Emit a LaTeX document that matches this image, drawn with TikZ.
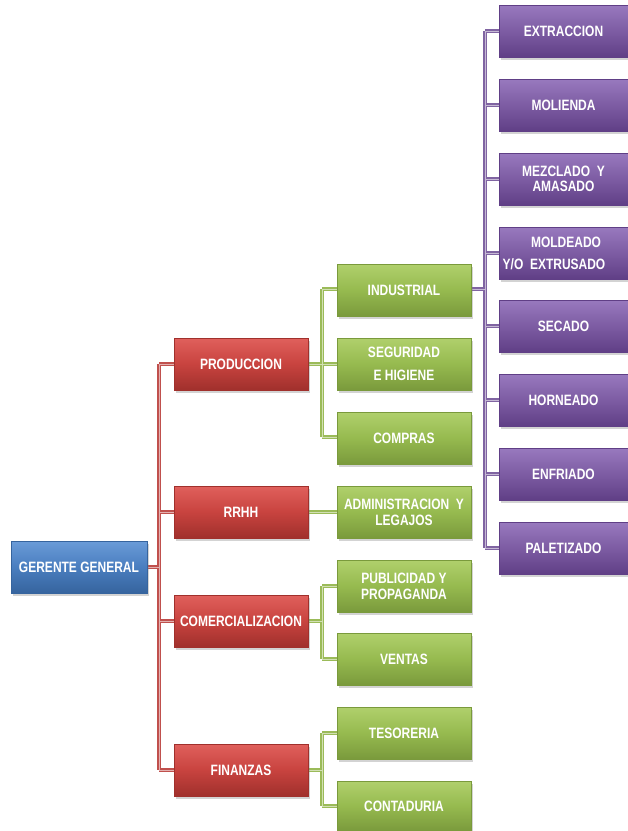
\documentclass[tikz,border=0pt]{standalone}
\usepackage{fontspec}
\setmainfont{Liberation Sans}[FakeStretch=0.8]
\usetikzlibrary{shadows}
\definecolor{cblue}{HTML}{4A7EBF}
\definecolor{cbluelt}{HTML}{6A9BD8}
\definecolor{cbluedk}{HTML}{36649E}
\definecolor{cred}{HTML}{C8433F}
\definecolor{credlt}{HTML}{E0605C}
\definecolor{creddk}{HTML}{A0302C}
\definecolor{cgreen}{HTML}{96BA4F}
\definecolor{cgreenlt}{HTML}{B0D06C}
\definecolor{cgreendk}{HTML}{7A9A3C}
\definecolor{cpurple}{HTML}{7D5CA3}
\definecolor{cpurplelt}{HTML}{9879BE}
\definecolor{cpurpledk}{HTML}{603F86}
\definecolor{lnred}{HTML}{C0504D}
\definecolor{lngreen}{HTML}{9BBB59}
\definecolor{lnpurple}{HTML}{8064A2}
\tikzset{
  box/.style={minimum height=52pt, inner sep=2pt, align=center,
    text=white, font=\bfseries\fontsize{15}{17}\selectfont,
    drop shadow={shadow xshift=2pt, shadow yshift=-2.5pt, opacity=0.35}},
  bluebox/.style={box, minimum width=136pt, top color=cbluelt, bottom color=cbluedk, middle color=cblue, draw=cbluedk, line width=0.4pt},
  redbox/.style={box, minimum width=134pt, top color=credlt, bottom color=creddk, middle color=cred, draw=creddk, line width=0.4pt},
  greenbox/.style={box, minimum width=134pt, top color=cgreenlt, bottom color=cgreendk, middle color=cgreen, draw=cgreendk, line width=0.4pt},
  purplebox/.style={box, minimum width=129pt, top color=cpurplelt, bottom color=cpurpledk, middle color=cpurple, draw=cpurpledk, line width=0.4pt},
  outer/.style={line width=3.2pt},
  inner/.style={line width=1pt},
}
\newcommand{\redtree}[1]{%
  \draw[#1] (147,567) -- (159,567);
  \draw[#1] (159,364) -- (159,770);
  \draw[#1] (159,364) -- (174,364);
  \draw[#1] (159,512) -- (174,512);
  \draw[#1] (159,621) -- (174,621);
  \draw[#1] (159,770) -- (174,770);}
\newcommand{\greentree}[1]{%
  \draw[#1] (308,364) -- (322,364);
  \draw[#1] (322,289) -- (322,437);
  \draw[#1] (322,289) -- (337,289);
  \draw[#1] (322,437) -- (337,437);
  \draw[#1] (322,364) -- (337,364);
  \draw[#1] (308,512) -- (337,512);
  \draw[#1] (308,621) -- (322,621);
  \draw[#1] (322,586) -- (322,659);
  \draw[#1] (322,586) -- (337,586);
  \draw[#1] (322,659) -- (337,659);
  \draw[#1] (308,770) -- (322,770);
  \draw[#1] (322,733) -- (322,806);
  \draw[#1] (322,733) -- (337,733);
  \draw[#1] (322,806) -- (337,806);}
\newcommand{\purpletree}[1]{%
  \draw[#1] (471,289) -- (485,289);
  \draw[#1] (485,31) -- (485,548);
  \foreach \yy in {31,105,179,253,326,400,474,548} {\draw[#1] (485,\yy) -- (499,\yy);}}
\begin{document}
\begin{tikzpicture}[x=1pt,y=-1pt]
\useasboundingbox (0,0) rectangle (628,831);
% connectors (drawn first)
\redtree{outer,lnred}
\redtree{inner,lnred!45!white}
\greentree{outer,lngreen}
\greentree{inner,lngreen!45!white}
\purpletree{outer,lnpurple}
\purpletree{inner,lnpurple!45!white}
% nodes
\node[bluebox] (gg) at (79,567) {GERENTE GENERAL};
\node[redbox] (prod) at (241,364) {PRODUCCION};
\node[redbox] (rrhh) at (241,512) {RRHH};
\node[redbox] (com) at (241,621) {COMERCIALIZACION};
\node[redbox] (fin) at (241,770) {FINANZAS};
\node[greenbox] (ind) at (404,290) {INDUSTRIAL};
\node[greenbox, font=\bfseries\fontsize{15}{23}\selectfont] (seg) at (404,364) {SEGURIDAD\\E HIGIENE};
\node[greenbox] (comp) at (404,438) {COMPRAS};
\node[greenbox, font=\bfseries\fontsize{15}{16}\selectfont] (adm) at (404,512) {ADMINISTRACION\ \ Y\\LEGAJOS};
\node[greenbox, font=\bfseries\fontsize{15}{16}\selectfont] (pub) at (404,586) {PUBLICIDAD Y\\PROPAGANDA};
\node[greenbox] (ven) at (404,659) {VENTAS};
\node[greenbox] (tes) at (404,733) {TESORERIA};
\node[greenbox, minimum height=50pt] (cont) at (404,806) {CONTADURIA};
\node[purplebox] (ext) at (563.5,31) {EXTRACCION};
\node[purplebox] (mol) at (563.5,105) {MOLIENDA};
\node[purplebox, font=\bfseries\fontsize{15}{15}\selectfont] (mez) at (563.5,179) {MEZCLADO\ \ Y\\AMASADO};
\node[purplebox, font=\bfseries\fontsize{15}{22}\selectfont] (mold) at (563.5,253) {\hspace*{5pt}MOLDEADO\\\hspace*{-19pt}Y/O\ \ EXTRUSADO};
\node[purplebox] (sec) at (563.5,326) {SECADO};
\node[purplebox] (hor) at (563.5,400) {HORNEADO};
\node[purplebox] (enf) at (563.5,474) {ENFRIADO};
\node[purplebox] (pal) at (563.5,548) {PALETIZADO};
\end{tikzpicture}
\end{document}
